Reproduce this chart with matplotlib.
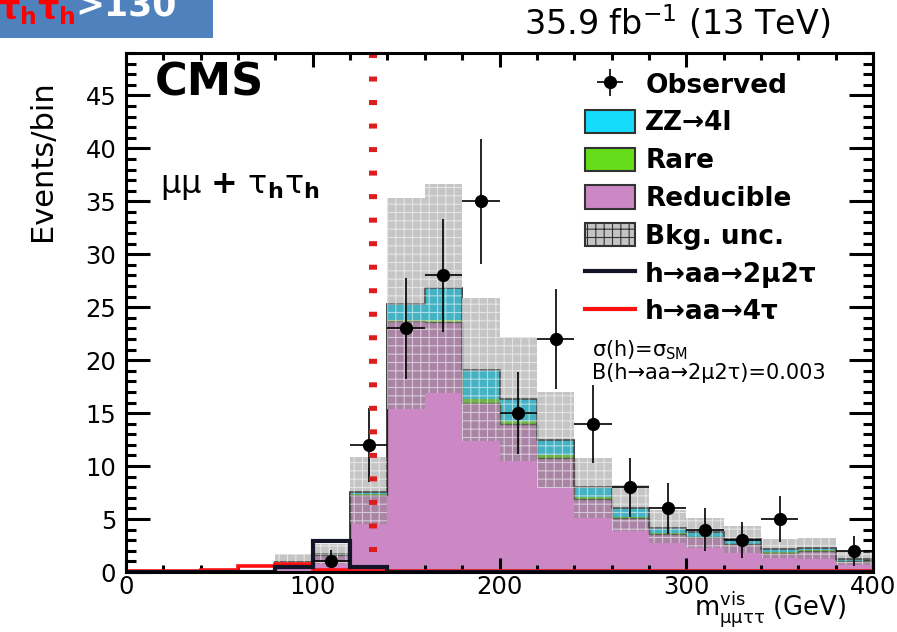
import numpy as np
import matplotlib.pyplot as plt
from matplotlib.patches import Patch, Rectangle
from matplotlib.lines import Line2D
from matplotlib.ticker import MultipleLocator

plt.rcParams['font.family'] = ['DejaVu Sans']
plt.rcParams['mathtext.fontset'] = 'dejavusans'
plt.rcParams['hatch.linewidth'] = 0.8

# m_vis binning, 20 GeV bins from 0 to 400
edges = np.arange(0, 420, 20)

# stacked backgrounds (events per bin)
reducible = np.array([0, 0, 0, 0, 0.9, 1.6, 7.3, 23.7, 23.6, 16.0,
                      14.0, 10.8, 6.9, 5.1, 3.6, 3.3, 2.6, 1.8, 2.0, 1.0])
rare = np.array([0, 0, 0, 0, 0, 0, 0.05, 0.1, 0.2, 0.3,
                 0.3, 0.2, 0.15, 0.1, 0.1, 0.05, 0.05, 0.05, 0.05, 0.05])
zz4l = np.array([0, 0, 0, 0, 0.05, 0.1, 0.25, 1.5, 3.0, 2.8,
                 2.0, 1.5, 0.95, 0.8, 0.5, 0.45, 0.45, 0.35, 0.25, 0.15])

# background uncertainty band
unc_lo = np.array([0, 0, 0, 0, 0.5, 0.8, 4.5, 15.4, 16.9, 12.4,
                   10.5, 7.9, 5.1, 3.9, 2.7, 2.3, 1.8, 1.3, 1.2, 0.7])
unc_hi = np.array([0, 0, 0, 0, 1.7, 2.6, 10.9, 35.3, 36.6, 25.9,
                   22.2, 17.0, 10.8, 8.2, 5.9, 5.1, 4.3, 3.1, 3.2, 2.0])

# signal hypotheses
sig_2mu2tau = np.array([0, 0, 0, 0, 0.45, 2.9, 0.45, 0, 0, 0,
                        0, 0, 0, 0, 0, 0, 0, 0, 0, 0])
sig_4tau = np.array([0.1, 0.1, 0.15, 0.55, 0.8, 0.2, 0.1, 0.1, 0.1, 0.1,
                     0.1, 0.1, 0.1, 0.1, 0.1, 0.1, 0.1, 0.1, 0.1, 0.1])

# observed data
obs_x = np.array([110, 130, 150, 170, 190, 210, 230, 250, 270, 290, 310, 330, 350, 390])
obs_y = np.array([1, 12, 23, 28, 35, 15, 22, 14, 8, 6, 4, 3, 5, 2])
obs_lo = np.array([0.6, 3.5, 4.8, 5.3, 5.9, 3.9, 4.7, 3.7, 2.8, 2.4, 2.0, 1.7, 2.2, 1.4])
obs_hi = np.array([1.1, 3.5, 4.8, 5.3, 5.9, 3.9, 4.7, 3.7, 2.8, 2.4, 2.0, 1.7, 2.2, 1.4])

cut_line = 132

c_red = '#ff1010'
c_zz = '#14dcfa'
c_rare = '#66dd1a'
c_red_bkg = '#cc88c4'
band_face = (0.5, 0.5, 0.5, 0.45)
band_hatch = (1, 1, 1, 0.55)

W, H = 897, 632
fig = plt.figure(figsize=(W / 100, H / 100), dpi=100)
ax = fig.add_axes([126 / W, 60 / H, 747 / W, 519 / H])

# stacked histograms
s1 = reducible
s2 = s1 + rare
s3 = s2 + zz4l
ax.stairs(s1, edges, fill=True, facecolor=c_red_bkg, zorder=1)
ax.stairs(s2, edges, baseline=s1, fill=True, facecolor=c_rare, zorder=1)
ax.stairs(s3, edges, baseline=s2, fill=True, facecolor=c_zz, zorder=1)
ax.stairs(s1, edges, color='#3a4a2a', lw=1.0, zorder=2)
ax.stairs(s3, edges, color='#222222', lw=1.2, zorder=2)

# uncertainty band
ax.stairs(unc_hi, edges, baseline=unc_lo, fill=True, facecolor=band_face,
          edgecolor=band_hatch, hatch='++', lw=0, zorder=3)

# signals
ax.stairs(sig_4tau, edges, color=c_red, lw=2.6, zorder=4)
ax.stairs(sig_2mu2tau, edges, color='#141428', lw=3.0, zorder=5)

# data
obs = ax.errorbar(obs_x, obs_y, yerr=[obs_lo, obs_hi], xerr=10, fmt='o', color='black',
                  ms=8.5, elinewidth=1.2, capsize=0, zorder=6)

ax.axvline(cut_line, ymin=1, ymax=0, color='#dd1c1c', lw=5.8,
           ls=(0, (0.62, 2.3)), dash_capstyle='butt', zorder=7)

ax.set_xlim(0, 400)
ax.set_ylim(0, 49)
ax.xaxis.set_major_locator(MultipleLocator(100))
ax.xaxis.set_minor_locator(MultipleLocator(20))
ax.yaxis.set_major_locator(MultipleLocator(5))
ax.yaxis.set_minor_locator(MultipleLocator(1))
ax.tick_params(which='both', direction='in', top=True, right=True, width=2.2,
               labelsize=17.5, pad=7)
ax.tick_params(axis='x', pad=2)
ax.tick_params(axis='y', which='major', length=17)
ax.tick_params(axis='y', which='minor', length=7)
ax.tick_params(axis='x', which='major', length=10)
ax.tick_params(axis='x', which='minor', length=5)
for sp in ax.spines.values():
    sp.set_linewidth(2.2)
    sp.set_zorder(8)

ax.set_ylabel('Events/bin', fontsize=22, loc='top')
ax.yaxis.set_label_coords(-0.092, 0.948)
ax.set_xlabel(r'$\mathrm{m}^{\mathrm{vis}}_{\mathrm{\mu\mu\tau\tau}}$ (GeV)',
              fontsize=18.5, loc='right')
ax.xaxis.label.set_va('baseline')
ax.xaxis.set_label_coords(0.964, -0.084)

ax.text(0.039, 0.919, 'CMS', transform=ax.transAxes, fontsize=32,
        fontweight='bold', va='baseline')
ax.text(0.046, 0.730, r'μμ $\mathbf{+}$ τ$_{\mathbf{h}}$τ$_{\mathbf{h}}$',
        transform=ax.transAxes, fontsize=23, va='baseline')
ax.text(0.624, 0.416, r'σ(h)=σ$_{\rm SM}$', transform=ax.transAxes,
        fontsize=15, va='baseline')
ax.text(0.624, 0.372, 'B(h→aa→2μ2τ)=0.003', transform=ax.transAxes,
        fontsize=15, va='baseline')

handles = [
    obs,
    Patch(facecolor=c_zz, edgecolor='#333333', lw=1.5),
    Patch(facecolor=c_rare, edgecolor='#333333', lw=1.5),
    Patch(facecolor=c_red_bkg, edgecolor='#333333', lw=1.5),
    Patch(facecolor='#c4c4c4', edgecolor='#333333', lw=1.5),
    Line2D([], [], color='#141428', lw=3),
    Line2D([], [], color=c_red, lw=3),
]
labels = ['Observed', 'ZZ→4l', 'Rare', 'Reducible', 'Bkg. unc.',
          'h→aa→2μ2τ', 'h→aa→4τ']
leg = ax.legend(handles, labels, loc='upper left', frameon=False,
                bbox_to_anchor=(585 / W, 1 - 72 / H), bbox_transform=fig.transFigure,
                prop={'weight': 'bold', 'size': 19}, handlelength=1.9,
                handleheight=0.98, labelspacing=0.42, handletextpad=0.38,
                borderpad=0, borderaxespad=0)
leg.set_zorder(9)
# dotted fill on the uncertainty swatch
bkg_patch = leg.get_patches()[3]
bkg_patch.set_hatch('++')

fig.text(830 / W, 1 - 35 / H, '35.9 fb$^{-1}$ (13 TeV)', fontsize=24,
         ha='right', va='baseline')

# selection tag
fig.patches.append(Rectangle((0, 1 - 38 / H), 213 / W, 38 / H,
                             transform=fig.transFigure, facecolor='#4f81bd',
                             edgecolor='none'))
fig.text(-2 / W, 1 - 19 / H, r'τ$_\mathbf{h}$τ$_\mathbf{h}$',
         color='#ff0000', fontsize=24, fontweight='bold', va='baseline')
fig.text(75 / W, 1 - 15 / H, '>130', color='white', fontsize=25,
         fontweight='bold', va='baseline')

fig.savefig('out.png', dpi=100)
